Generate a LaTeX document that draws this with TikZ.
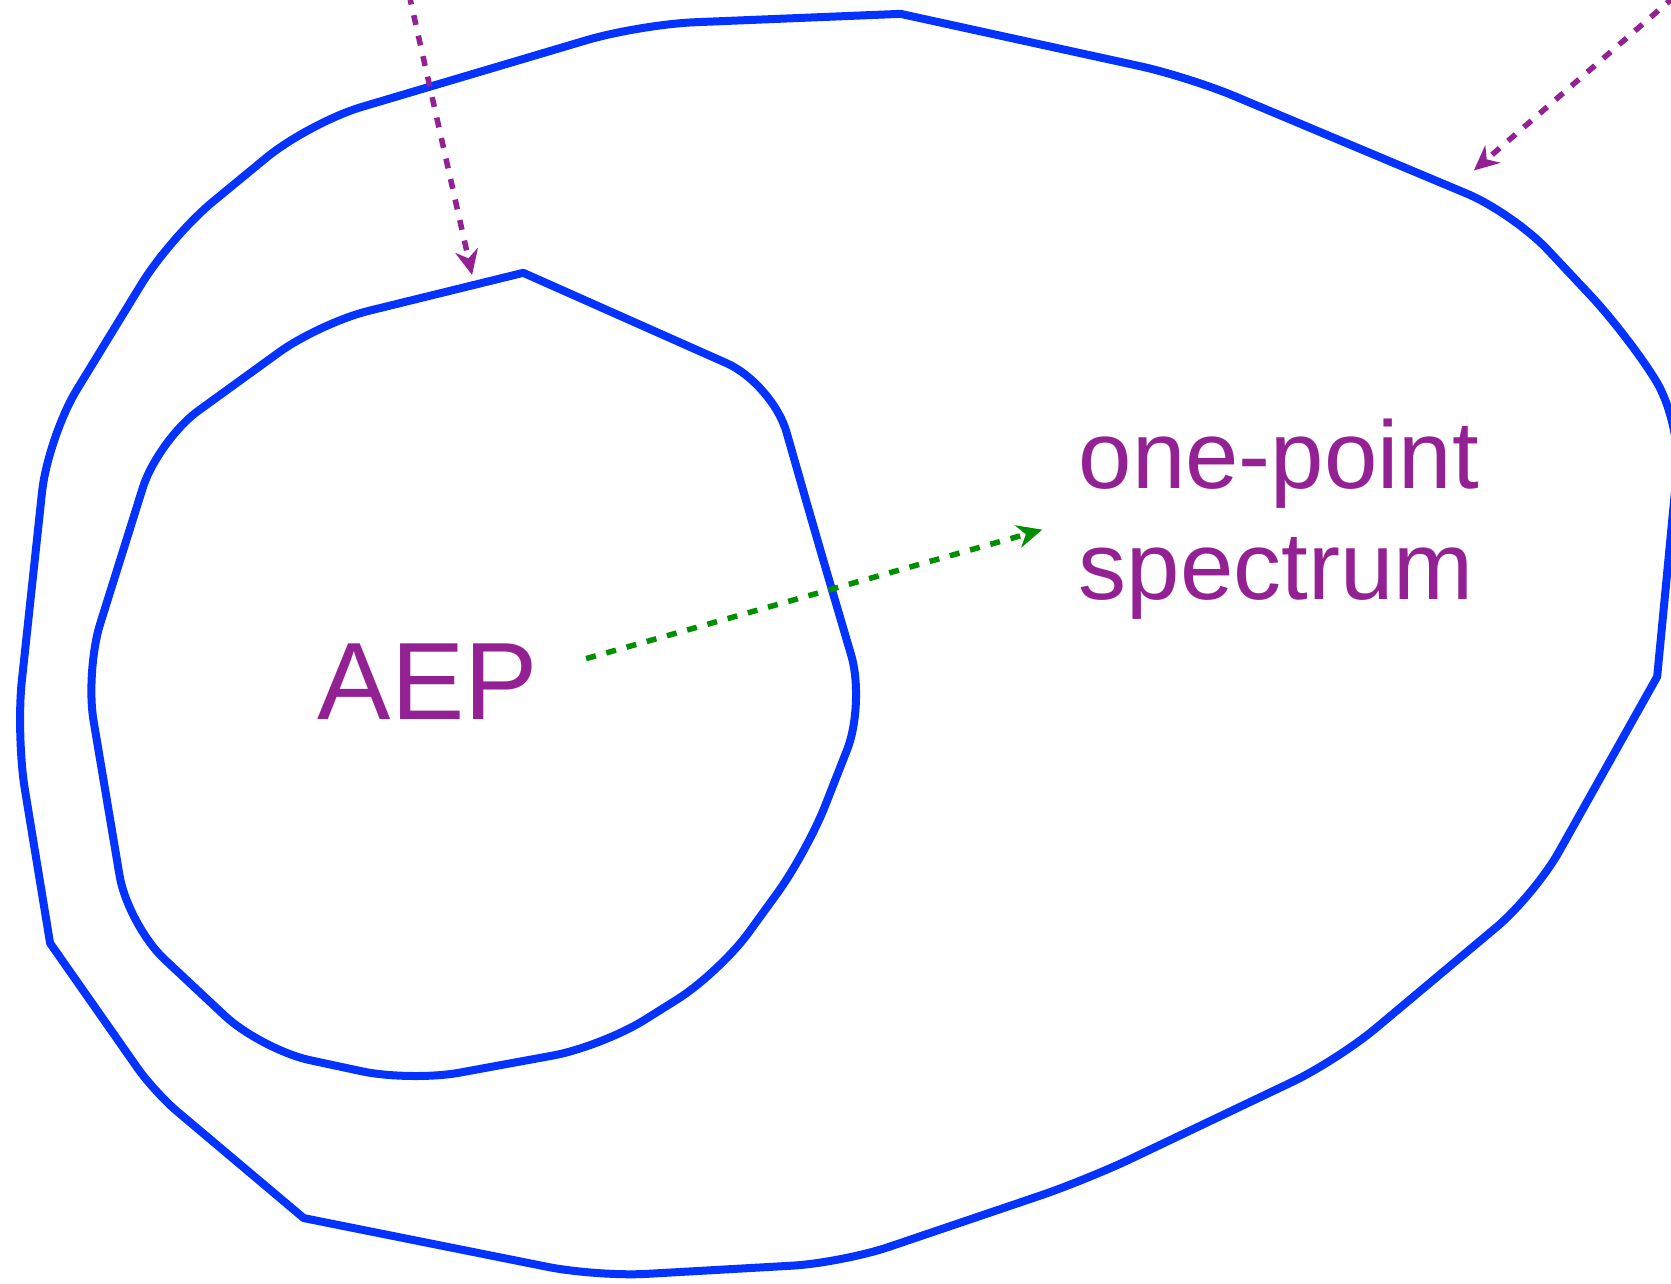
\documentclass[tikz,border=0pt]{standalone}
\usepackage{fontspec}
\setmainfont{Liberation Sans}
\usetikzlibrary{arrows.meta}
\definecolor{shapeblue}{HTML}{0433FF}
\definecolor{plum}{HTML}{942193}
\definecolor{clover}{HTML}{008F00}
\begin{document}
\begin{tikzpicture}[x=1.0657pt,y=-1.0657pt,
  region/.style={draw=shapeblue, line width=8pt, line join=round},
  pointer/.style={line width=5.5pt, dash pattern=on 10pt off 11pt,
    -{Stealth[length=25pt,width=23pt,inset=8pt]}},
  labeltext/.style={text=plum, inner sep=0pt, anchor=base west}]
\useasboundingbox (0,0) rectangle (1568,1204);
\clip (0,0) rectangle (1568,1204);
% outer region
\draw[region] (845,13) [rounded corners=50pt] -- (1115,72) -- (1420,200) -- (1525,312)
  -- (1578,395) -- (1568,500) [sharp corners] -- (1555,635) [rounded corners=50pt]
  -- (1440,840) -- (1255,995) -- (1020,1107) -- (790,1185) -- (560,1198) [sharp corners]
  -- (285,1143) [rounded corners=30pt] -- (145,1025) [sharp corners] -- (47,885)
  [rounded corners=55pt] -- (15,690) -- (45,410) -- (160,222) -- (290,115) -- (600,23)
  [sharp corners] -- cycle;
% inner region
\draw[region] (491,256) [rounded corners=50pt] -- (725,360) -- (765,500) -- (812,660)
  -- (757,800) -- (675,913) -- (565,982) -- (385,1015) -- (245,985) -- (120,868)
  -- (80,630) -- (148,413) -- (300,303) [sharp corners] -- cycle;
% labels
\node[labeltext, font=\fontsize{110}{110}\selectfont] (aep) at (298,675) {AEP};
\node[labeltext, font=\fontsize{96}{110}\selectfont] (op1) at (1012,458) {one-point};
\node[labeltext, font=\fontsize{96}{110}\selectfont] (op2) at (1012,563) {spectrum};
% arrows
\coordinate (p1s) at (383.9,-5);
\coordinate (p1e) at (443,258);
\coordinate (p2s) at (1571,-3);
\coordinate (p2e) at (1383,160);
\coordinate (gs) at (550,618);
\coordinate (ge) at (978,497);
\draw[pointer, plum] (p1s) -- (p1e);
\draw[pointer, plum] (p2s) -- (p2e);
\draw[pointer, clover] (gs) -- (ge);
\end{tikzpicture}
\end{document}
